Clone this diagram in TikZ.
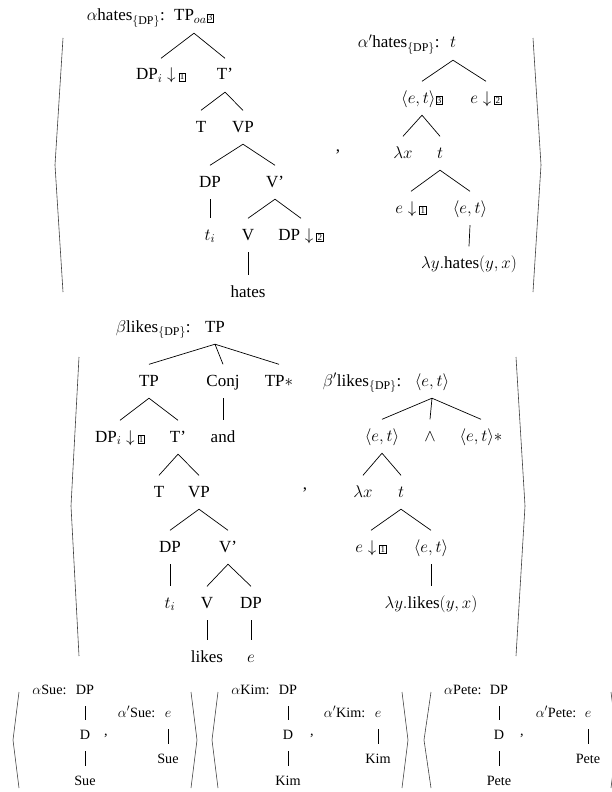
\documentclass[tikz,border=0pt]{standalone}
\usepackage{fix-cm}
\usepackage{amsmath}
\usepackage{fontspec}
\setmainfont{Liberation Serif}
\usepackage{tikz}
\usetikzlibrary{positioning}

\newcommand{\bnum}[1]{{\setlength\fboxsep{0.9pt}\setlength\fboxrule{0.5pt}\fbox{\fontsize{9}{9}\selectfont #1}}}
\newcommand{\tsize}{\fontsize{17}{20}\selectfont}
\newcommand{\ssize}{\fontsize{14.2}{17}\selectfont}

\tikzset{
	tn/.style={anchor=base, inner sep=0pt, text height=21.5pt, text depth=12pt, font=\tsize},
	sn/.style={tn, text height=18.5pt, font=\ssize},
	br/.style={line width=0.6pt, black!75},
	edge/.style={line width=0.7pt}
}

\begin{document}
\begin{tikzpicture}[x=1pt,y=-1pt]
	\useasboundingbox (0,0) rectangle (612,792);

	% alpha hates
	\node[tn] (aTP) at (194,21) {TP$_{oa}$\bnum{3}};
	\node[tn, left=9pt of aTP] (aLab) {$\alpha$hates$_{\{\text{DP}\}}$:};
	\node[tn] (aDPi) at (161,80) {DP$_i\downarrow$\,\bnum{1}};
	\node[tn] (aTbar) at (225,80) {T'};
	\node[tn] (aT) at (201,132) {T};
	\node[tn] (aVP) at (243,132) {VP};
	\node[tn] (aDP) at (210,187) {DP};
	\node[tn] (aVbar) at (275,187) {V'};
	\node[tn] (ati) at (210,240) {$t_i$};
	\node[tn] (aV) at (248,240) {V};
	\node[tn] (aDPb) at (301,240) {DP$\;\downarrow$\,\bnum{2}};
	\node[tn] (ahates) at (248,297) {hates};
	\draw[edge] (aTP.south) -- (aDPi.north) (aTP.south) -- (aTbar.north);
	\draw[edge] (aTbar.south) -- (aT.north) (aTbar.south) -- (aVP.north);
	\draw[edge] (aVP.south) -- (aDP.north) (aVP.south) -- (aVbar.north);
	\draw[edge] (aDP.south) -- (ati.north);
	\draw[edge] (aVbar.south) -- (aV.north) (aVbar.south) -- (aDPb.north);
	\draw[edge] (aV.south) -- (ahates.north);

	\node[tn] (acomma) at (338,151) {,};

	% alpha' hates
	\node[tn] (apt) at (453,48) {$t$};
	\node[tn, left=10pt of apt] (apLab) {$\alpha'$hates$_{\{\text{DP}\}}$:};
	\node[tn] (apet) at (422,103) {$\langle e,t\rangle$\bnum{3}};
	\node[tn] (ape) at (486,103) {$e\downarrow$\,\bnum{2}};
	\node[tn] (aplx) at (403,158) {$\lambda x$};
	\node[tn] (apt2) at (440,158) {$t$};
	\node[tn] (ape1) at (411,213) {$e\downarrow$\,\bnum{1}};
	\node[tn] (apet2) at (470,213) {$\langle e,t\rangle$};
	\node[tn] (aphates) at (469,268) {$\lambda y.\text{hates}(y,x)$};
	\draw[edge] (apt.south) -- (apet.north) (apt.south) -- (ape.north);
	\draw[edge] (apet.south) -- (aplx.north) (apet.south) -- (apt2.north);
	\draw[edge] (apt2.south) -- (ape1.north) (apt2.south) -- (apet2.north);
	\draw[edge] (apet2.south) -- (aphates.north);

	\draw[br] (63,38) -- (55,165) -- (63,292);
	\draw[br] (533,38) -- (541,165) -- (533,292);

	% beta likes
	\node[tn] (bTP) at (215,332) {TP};
	\node[tn, left=14pt of bTP] (bLab) {$\beta$likes$_{\{\text{DP}\}}$:};
	\node[tn] (bTPa) at (149,386) {TP};
	\node[tn] (bConj) at (223,386) {Conj};
	\node[tn] (bTPs) at (279,386) {TP$*$};
	\node[tn] (bDPi) at (120,442) {DP$_i\downarrow$\,\bnum{1}};
	\node[tn] (bTbar) at (178,442) {T'};
	\node[tn] (band) at (223,442) {and};
	\node[tn] (bT) at (159,497) {T};
	\node[tn] (bVP) at (199,497) {VP};
	\node[tn] (bDP) at (170,552) {DP};
	\node[tn] (bVbar) at (228,552) {V'};
	\node[tn] (bti) at (170,608) {$t_i$};
	\node[tn] (bV) at (207,608) {V};
	\node[tn] (bDPb) at (251,608) {DP};
	\node[tn] (blikes) at (207,662) {likes};
	\node[tn] (be) at (251,662) {$e$};
	\draw[edge] (bTP.south) -- (bTPa.north) (bTP.south) -- (bConj.north) (bTP.south) -- (bTPs.north);
	\draw[edge] (bTPa.south) -- (bDPi.north) (bTPa.south) -- (bTbar.north);
	\draw[edge] (bConj.south) -- (band.north);
	\draw[edge] (bTbar.south) -- (bT.north) (bTbar.south) -- (bVP.north);
	\draw[edge] (bVP.south) -- (bDP.north) (bVP.south) -- (bVbar.north);
	\draw[edge] (bDP.south) -- (bti.north);
	\draw[edge] (bVbar.south) -- (bV.north) (bVbar.south) -- (bDPb.north);
	\draw[edge] (bV.south) -- (blikes.north);
	\draw[edge] (bDPb.south) -- (be.north);

	\node[tn] (bcomma) at (305,489) {,};

	% beta' likes
	\node[tn] (bpet) at (432,386) {$\langle e,t\rangle$};
	\node[tn, left=13pt of bpet] (bpLab) {$\beta'$likes$_{\{\text{DP}\}}$:};
	\node[tn] (bpet1) at (382,441) {$\langle e,t\rangle$};
	\node[tn] (bpand) at (430,441) {$\wedge$};
	\node[tn] (bpets) at (481,441) {$\langle e,t\rangle*$};
	\node[tn] (bplx) at (363,497) {$\lambda x$};
	\node[tn] (bpt) at (401,497) {$t$};
	\node[tn] (bpe1) at (371,552) {$e\downarrow$\,\bnum{1}};
	\node[tn] (bpet2) at (431,552) {$\langle e,t\rangle$};
	\node[tn] (bplikes) at (431,608) {$\lambda y.\text{likes}(y,x)$};
	\draw[edge] (bpet.south) -- (bpet1.north) (bpet.south) -- (bpand.north) (bpet.south) -- (bpets.north);
	\draw[edge] (bpet1.south) -- (bplx.north) (bpet1.south) -- (bpt.north);
	\draw[edge] (bpt.south) -- (bpe1.north) (bpt.south) -- (bpet2.north);
	\draw[edge] (bpet2.south) -- (bplikes.north);

	\draw[br] (79,357) -- (71,506) -- (79,656);
	\draw[br] (516,357) -- (525,506) -- (516,656);

	% Sue
	\node[sn] (sDP) at (85,694) {DP};
	\node[sn, left=9pt of sDP] (sLab) {$\alpha$Sue:};
	\node[sn] (sD) at (85,739) {D};
	\node[sn] (sSue) at (85,785) {Sue};
	\node[sn] (scomma) at (106,735) {,};
	\node[sn] (se) at (168,717) {$e$};
	\node[sn, left=9pt of se] (spLab) {$\alpha'$Sue:};
	\node[sn] (sSue2) at (168,763) {Sue};
	\draw[edge] (sDP.south) -- (sD.north) (sD.south) -- (sSue.north);
	\draw[edge] (se.south) -- (sSue2.north);
	\draw[br] (19,692) -- (13,740) -- (19,788);
	\draw[br] (191,692) -- (197,740) -- (191,788);

	% Kim
	\node[sn] (kDP) at (288,694) {DP};
	\node[sn, left=9pt of kDP] (kLab) {$\alpha$Kim:};
	\node[sn] (kD) at (288,739) {D};
	\node[sn] (kKim) at (288,785) {Kim};
	\node[sn] (kcomma) at (312,735) {,};
	\node[sn] (ke) at (378,717) {$e$};
	\node[sn, left=9pt of ke] (kpLab) {$\alpha'$Kim:};
	\node[sn] (kKim2) at (378,763) {Kim};
	\draw[edge] (kDP.south) -- (kD.north) (kD.south) -- (kKim.north);
	\draw[edge] (ke.south) -- (kKim2.north);
	\draw[br] (218,692) -- (212,740) -- (218,788);
	\draw[br] (402,692) -- (408,740) -- (402,788);

	% Pete
	\node[sn] (pDP) at (499,694) {DP};
	\node[sn, left=8pt of pDP] (pLab) {$\alpha$Pete:};
	\node[sn] (pD) at (499,739) {D};
	\node[sn] (pPete) at (499,785) {Pete};
	\node[sn] (pcomma) at (522,735) {,};
	\node[sn] (pe) at (588,717) {$e$};
	\node[sn, left=8pt of pe] (ppLab) {$\alpha'$Pete:};
	\node[sn] (pPete2) at (588,763) {Pete};
	\draw[edge] (pDP.south) -- (pD.north) (pD.south) -- (pPete.north);
	\draw[edge] (pe.south) -- (pPete2.north);
	\draw[br] (431,692) -- (424,740) -- (431,788);
	\draw[br] (611,692) -- (617,740) -- (611,788);
\end{tikzpicture}
\end{document}
